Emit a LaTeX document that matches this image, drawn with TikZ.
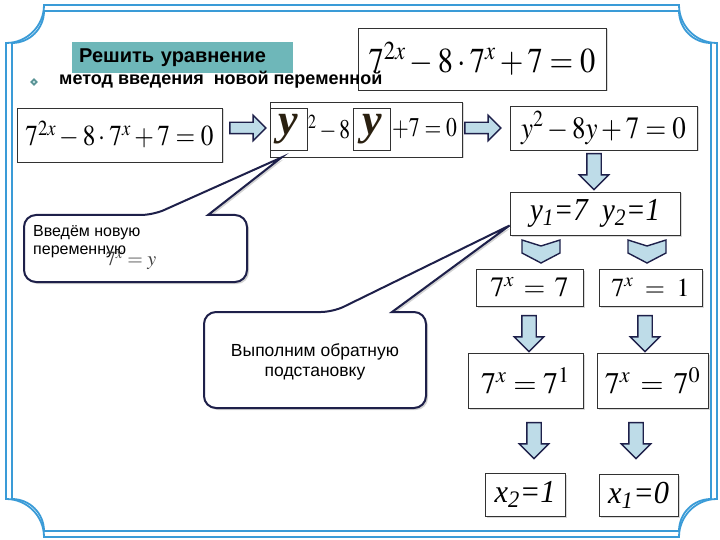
\documentclass[tikz,border=0pt]{standalone}
\usepackage{mathptmx}
\usepackage[no-math]{fontspec}
\usepackage{graphicx}
\setmainfont{Liberation Sans}
\newfontfamily\serifit{Liberation Serif}
\usetikzlibrary{shapes.arrows,shapes.geometric,shadows,calc}

\definecolor{framebl}{RGB}{58,155,215}
\definecolor{navy}{RGB}{30,32,74}
\definecolor{arrowfill}{RGB}{190,220,232}
\definecolor{titleteal}{RGB}{110,183,185}
\definecolor{boxgray}{RGB}{50,50,50}
\definecolor{ydark}{RGB}{42,32,16}

\newcommand\narrow[1]{\scalebox{0.87}[1]{#1}}
\newcommand\bigy{{\color{ydark}\serifit\bfseries\itshape\fontsize{44}{44}\selectfont y}}

\begin{document}
\begin{tikzpicture}[x=1pt,y=-1pt,
    frameline/.style={draw=framebl,line width=1.8pt},
    eqbox/.style={draw=boxgray,line width=0.9pt,fill=white,inner sep=0pt,
        drop shadow={shadow xshift=1.5pt,shadow yshift=-1.5pt,opacity=0.3}},
    blockarrow/.style={single arrow,draw=navy,fill=arrowfill,line width=1.4pt,
        inner xsep=0pt,inner ysep=5pt,single arrow head extend=7pt,minimum height=36pt},
    downarrow/.style={blockarrow,rotate=-90,inner ysep=6.5pt,
        single arrow head extend=7.5pt,minimum height=36pt},
    callout/.style={draw=navy,line width=2pt,fill=white,
        drop shadow={shadow xshift=2pt,shadow yshift=-2pt,opacity=0.35}}]

    \useasboundingbox (0,0) rectangle (720,540);
    % frame with cut corners
    \foreach \off/\rad in {0/38,6/32}
    \draw[frameline] (6+\off+\rad,5+\off) -- (717-\off-\rad,5+\off)
    arc[start angle=180,end angle=90,radius=\rad] -- (717-\off,537-\off-\rad)
    arc[start angle=270,end angle=180,radius=\rad] -- (6+\off+\rad,537-\off)
    arc[start angle=0,end angle=-90,radius=\rad] -- (6+\off,5+\off+\rad)
    arc[start angle=90,end angle=0,radius=\rad] -- cycle;

    % task
    \node[eqbox,minimum width=248pt,minimum height=62pt] (given) at (482,59)
    {\fontsize{35}{38}\selectfont\narrow{$7^{2x}-8\cdot7^x+7=0$}};
    \node[fill=titleteal,minimum height=31pt,text width=207pt,inner xsep=7pt,inner ysep=0pt,
    anchor=west,font=\fontsize{20}{22}\selectfont\bfseries] (task) at (72,57.5) {Решить уравнение};
    \node[diamond,fill=titleteal!80!black,inner sep=0pt,minimum size=8pt] (bullet) at (34,82) {};
    \node[diamond,fill=white!60!titleteal,inner sep=0pt,minimum size=3pt] (bulletcore) at (bullet) {};
    \node[anchor=west,inner sep=0pt,font=\fontsize{18}{20}\selectfont\bfseries] (method) at (59,80)
    {метод введения\ \ новой переменной};

    % first row
    \node[eqbox,minimum width=205pt,minimum height=54pt] (start) at (119.5,135)
    {\raisebox{3pt}{\fontsize{29}{32}\selectfont\narrow{$7^{2x}-8\cdot7^x+7=0$}}};
    \node[eqbox,minimum width=192pt,minimum height=55pt] (subst) at (366,129.5) {};
    \node[draw=boxgray,line width=0.8pt,minimum width=37pt,minimum height=42pt,inner sep=0pt]
    (ysq) at (288.5,129) {\bigy};
    \node[draw=boxgray,line width=0.8pt,minimum width=37pt,minimum height=42pt,inner sep=0pt]
    (ylin) at (372,129) {\bigy};
    \node[anchor=west,inner sep=0pt,font=\fontsize{27}{30}\selectfont] (sqpart) at (308,128)
    {\scalebox{0.8}[1]{${}^2-8$}};
    \node[anchor=west,inner sep=0pt,font=\fontsize{27}{30}\selectfont] (restpart) at (392,129)
    {\scalebox{0.8}[1]{$+7=0$}};
    \node[eqbox,minimum width=187pt,minimum height=44pt] (quad) at (603.5,128)
    {\fontsize{31}{33}\selectfont\narrow{$y^2-8y+7=0$}};
    \node[blockarrow] (toB) at (245,128) {};
    \node[blockarrow] (toC) at (480,128) {};

    % roots
    \node[downarrow] (toD) at (594,168) {};
    \node[eqbox,minimum width=170pt,minimum height=43pt] (roots) at (595,213.5)
    {\serifit\itshape\fontsize{32}{34}\selectfont\scalebox{0.9}[1]{y\textsubscript{1}=7\ \ y\textsubscript{2}=1}};
    \foreach \cx in {541,647}
    \draw[draw=navy,fill=arrowfill,line width=1.4pt] (\cx-19,240) -- (\cx,246) -- (\cx+19,240)
    -- (\cx+19,253) -- (\cx,263) -- (\cx-19,253) -- cycle;

    \node[eqbox,minimum width=107pt,minimum height=37pt] (caseA) at (529.5,287.5)
    {\fontsize{28}{30}\selectfont$7^x\,=\,7$};
    \node[eqbox,minimum width=103pt,minimum height=37pt] (caseB) at (650.5,287.5)
    {\fontsize{26}{28}\selectfont$7^x\;=\;1$};
    \node[downarrow] (toG) at (529,330) {};
    \node[downarrow] (toH) at (645,330) {};
    \node[eqbox,minimum width=115pt,minimum height=55pt] (powA) at (525.5,380.5)
    {\fontsize{30}{32}\selectfont$7^x=7^1$};
    \node[eqbox,minimum width=111pt,minimum height=55pt] (powB) at (652.5,380.5)
    {\fontsize{30}{32}\selectfont$7^x\,=\,7^0$};
    \node[downarrow] (toI) at (534,437) {};
    \node[downarrow] (toJ) at (636,437) {};
    \node[eqbox,minimum width=80pt,minimum height=43pt] (xtwo) at (525,494.5)
    {\serifit\itshape\fontsize{32}{34}\selectfont\scalebox{0.95}[1]{x\textsubscript{2}=1}};
    \node[eqbox,minimum width=79pt,minimum height=42pt] (xone) at (638.5,495)
    {\serifit\itshape\fontsize{32}{34}\selectfont\scalebox{0.95}[1]{x\textsubscript{1}=0}};

    % callouts
    \draw[callout] (24,250) [rounded corners=12pt] -- (24,215) -- (153,215) [sharp corners]
    -- ($(subst.south west)+(12,0)$) -- (208,215) [rounded corners=12pt] -- (247,215)
    -- (247,282) -- (24,282) -- cycle;
    \node[anchor=north west,inner sep=0pt,align=left,font=\fontsize{16}{18}\selectfont]
    (introtext) at (33,225) {Введём новую\\переменную};
    \node[text=black!75,inner sep=0pt,font=\fontsize{20}{22}\selectfont] (introeq) at (131,261) {$7^x=y$};

    \draw[callout] (204,360) [rounded corners=12pt] -- (204,312) -- (333,312) [sharp corners]
    -- ($(roots.west)+(0,12)$) -- (392,312) [rounded corners=12pt] -- (426,312)
    -- (426,408) -- (204,408) -- cycle;
    \node[align=center,font=\fontsize{17.5}{20}\selectfont] (backtext) at (315,362)
    {Выполним обратную\\подстановку};
\end{tikzpicture}
\end{document}
